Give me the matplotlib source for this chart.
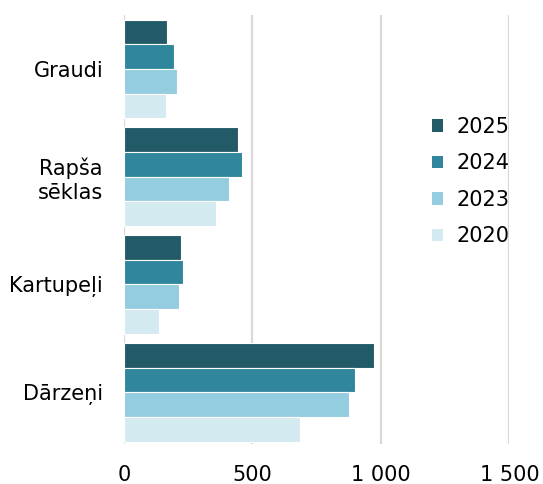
import numpy as np
import matplotlib
matplotlib.use('Agg')
import matplotlib.pyplot as plt
from matplotlib.patches import Patch

CATEGORIES = ['Graudi', 'Rapša\nsēklas', 'Kartupeļi', 'Dārzeņi']
YEARS = ['2025', '2024', '2023', '2020']
VALUES_2025 = [166, 444, 222, 972]
VALUES_2024 = [193, 458, 230, 898]
VALUES_2023 = [208, 408, 215, 876]
VALUES_2020 = [165, 358, 136, 687]
X_TICKS = [0, 500, 1000, 1500]
X_TICK_LABELS = ['0', '500', '1 000', '1 500']

COLORS = ('#235a68', '#30869c', '#95cde0', '#d4eaf1')
GRID = '#d9d9d9'


def main():
    fig = plt.figure(figsize=(5.43, 4.84), dpi=100)
    ax = fig.add_axes([0.2284, 0.0826, 0.7096, 0.8864])

    series = [VALUES_2025, VALUES_2024, VALUES_2023, VALUES_2020]
    y = np.arange(len(CATEGORIES))
    h = 0.229
    for i, (vals, color) in enumerate(zip(series, COLORS)):
        ax.barh(y + (i - 1.5) * h, vals, height=h, color=color,
                edgecolor='white', linewidth=0.8, zorder=3)

    ax.set_xlim(0, 1500)
    ax.set_ylim(3.48, -0.5)
    ax.set_xticks(X_TICKS)
    ax.set_xticklabels(X_TICK_LABELS)
    ax.set_yticks(y)
    ax.set_yticklabels(CATEGORIES, ha='right', multialignment='center')
    ax.tick_params(axis='x', length=0, pad=15, labelsize=15, colors='#000000')
    ax.tick_params(axis='y', length=0, pad=15, labelsize=15, colors='#000000')

    for s in ax.spines.values():
        s.set_visible(False)
    ax.grid(axis='x', color=GRID, linewidth=1.6, zorder=0)

    handles = [Patch(facecolor=c, edgecolor='none', label=l)
               for c, l in zip(COLORS, YEARS)]
    fig.legend(handles=handles, loc='center left',
               bbox_to_anchor=(0.761, 0.625), frameon=False, fontsize=15,
               handlelength=0.55, handleheight=0.55, handletextpad=0.65,
               labelspacing=0.79)

    fig.savefig('out.png', dpi=100)


if __name__ == '__main__':
    main()
